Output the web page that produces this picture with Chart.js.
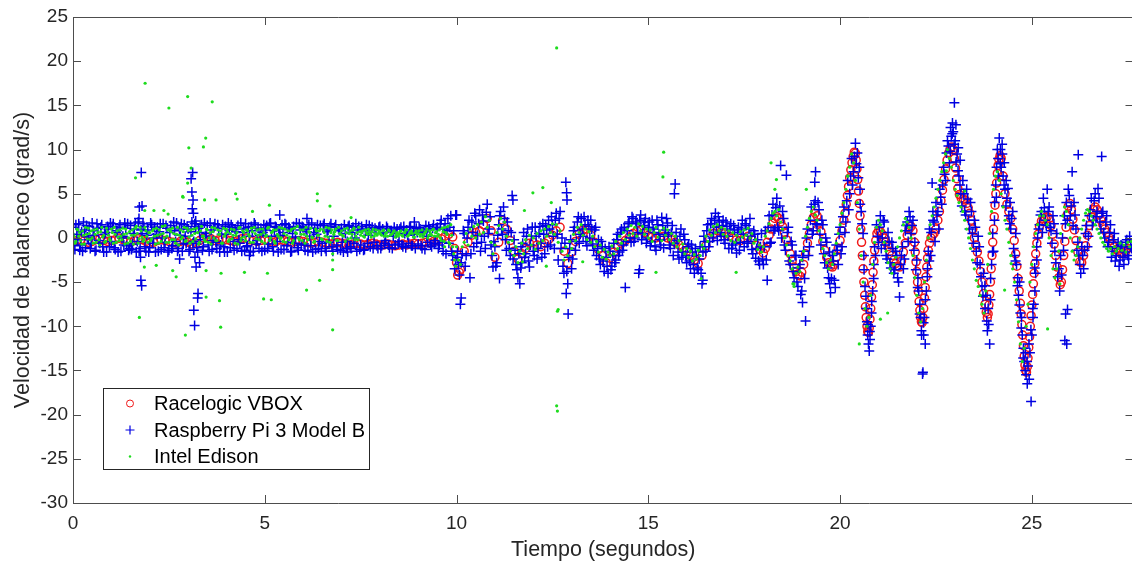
<!DOCTYPE html>
<html>
<head>
<meta charset="utf-8">
<script src="https://cdn.jsdelivr.net/npm/chart.js@4.4.1/dist/chart.umd.min.js"></script>
<style>
  html, body { margin: 0; padding: 0; background: #fff; overflow: hidden; }
  #wrap { width: 1132px; height: 567px; overflow: hidden; }
</style>
</head>
<body>
<div id="wrap"><canvas id="c" width="1140" height="567"></canvas></div>
<script>
  'use strict';

  const seriesNames = ['Racelogic VBOX', 'Raspberry Pi 3 Model B', 'Intel Edison'];
  const xTitle = 'Tiempo (segundos)';
  const yTitle = 'Velocidad de balanceo (grad/s)';
  const xTicks = [0, 5, 10, 15, 20, 25];
  const yTicks = [25, 20, 15, 10, 5, 0, -5, -10, -15, -20, -25, -30];

  // [tiempo, velocidad]
  const vbox = [
    [0,-0.4],[0.1,-0.3],[0.2,-0.2],[0.3,-0.3],[0.4,-0.5],[0.5,-0.4],[0.6,-0.2],[0.7,-0.1],[0.8,-0.3],[0.9,-0.4],
    [1,-0.3],[1.1,-0.2],[1.2,0],[1.3,-0.2],[1.4,-0.4],[1.5,-0.5],[1.6,-0.3],[1.7,-0.1],[1.8,-0.2],[1.9,-0.4],
    [2,-0.6],[2.1,-0.5],[2.2,-0.3],[2.3,-0.2],[2.4,-0.3],[2.5,-0.4],[2.6,-0.5],[2.7,-0.6],[2.8,-0.4],[2.9,-0.3],
    [3,-0.5],[3.1,-0.7],[3.2,-0.6],[3.3,-0.3],[3.4,0],[3.5,0.1],[3.6,-0.1],[3.7,-0.3],[3.8,-0.2],[3.9,-0.1],
    [4,-0.2],[4.1,-0.3],[4.2,-0.4],[4.3,-0.3],[4.4,-0.1],[4.5,0],[4.6,-0.2],[4.7,-0.3],[4.8,-0.4],[4.9,-0.3],
    [5,-0.2],[5.1,-0.3],[5.2,-0.5],[5.3,-0.4],[5.4,-0.2],[5.5,-0.3],[5.6,-0.4],[5.7,-0.5],[5.8,-0.4],[5.9,-0.3],
    [6,-0.4],[6.1,-0.5],[6.2,-0.6],[6.3,-0.5],[6.4,-0.4],[6.5,-0.5],[6.6,-0.6],[6.7,-0.7],[6.8,-0.6],[6.9,-0.5],
    [7,-0.6],[7.1,-0.7],[7.2,-0.8],[7.3,-0.7],[7.4,-0.6],[7.5,-0.7],[7.6,-0.8],[7.7,-0.7],[7.8,-0.6],[7.9,-0.7],
    [8,-0.8],[8.1,-0.8],[8.2,-0.7],[8.3,-0.8],[8.4,-0.9],[8.5,-0.8],[8.6,-0.7],[8.7,-0.8],[8.8,-0.7],[8.9,-0.6],
    [9,-0.7],[9.1,-0.6],[9.2,-0.5],[9.3,-0.6],[9.4,-0.4],[9.5,-0.3],[9.6,-0.1],[9.7,0.2],[9.8,0.4],[9.9,0.1],
    [9.95,-1.2],[10,-2.8],[10.03,-4.2],[10.07,-3.9],
    [10.1,-3.6],[10.2,-1.5],[10.3,-0.5],[10.4,0.3],[10.5,0.6],[10.6,0.8],[10.7,1.5],[10.8,2.2],[10.9,0.8],[11,-2.2],
    [11.1,-0.5],[11.2,2],[11.3,1],[11.4,-0.3],[11.5,-1.5],[11.6,-2.4],[11.7,-1.8],[11.8,-1.2],[11.9,-0.6],[12,-0.5],
    [12.1,-0.8],[12.2,-1],[12.3,-0.6],[12.4,-0.2],[12.5,0.3],[12.6,0.8],[12.7,1.2],[12.8,-1.5],[12.9,-2.9],[13,-1.6],
    [13.1,-0.4],[13.2,0.5],[13.3,0.9],[13.4,1],[13.5,0.3],[13.6,-0.5],[13.7,-1.3],[13.8,-2],[13.9,-2.8],[14,-2.3],
    [14.1,-1.6],[14.2,-1],[14.3,-0.6],[14.4,-0.3],[14.5,0.1],[14.6,0.5],[14.7,0.8],[14.8,0.9],[14.9,0.6],[15,0.3],
    [15.1,0.1],[15.2,0],[15.3,0.1],[15.4,0.2],[15.5,0],[15.6,-0.2],[15.7,-0.5],[15.8,-0.8],[15.9,-1.1],[16,-1.5],
    [16.1,-2],[16.2,-2.5],[16.3,-2.9],[16.4,-2],[16.5,-0.9],[16.6,0],[16.7,0.5],[16.8,0.8],[16.9,0.7],[17,0.5],
    [17.1,0.2],[17.2,0],[17.3,-0.2],[17.4,-0.3],[17.5,0],[17.6,0.2],[17.7,-0.2],[17.8,-0.8],[17.9,-1.3],[18,-1.7],
    [18.05,-1.2],[18.1,-0.5],[18.15,0.3],[18.2,1],[18.25,1.7],[18.3,2.2],[18.35,2.4],[18.4,2.2],[18.45,1.8],[18.5,1.3],
    [18.55,0.6],[18.6,-0.2],[18.65,-1],[18.7,-1.8],[18.75,-2.6],[18.8,-3.3],[18.85,-3.8],[18.9,-4.2],[18.95,-4.3],[19,-3.9],
    [19.05,-3],[19.1,-1.8],[19.15,-0.6],[19.2,0.5],[19.25,1.5],[19.3,2.3],[19.35,2.8],[19.4,2.5],[19.45,1.7],[19.5,0.7],
    [19.55,-0.4],[19.6,-1.4],[19.65,-2.2],[19.7,-2.8],[19.75,-3.2],[19.8,-3.3],[19.85,-3],[19.9,-2.2],[19.95,-1.2],[20,-0.3],
    [20.05,0.8],[20.1,2],[20.13,2.8],[20.16,3.8],[20.19,4.8],[20.22,5.8],[20.25,6.8],[20.28,7.7],[20.31,8.5],[20.34,9.2],
    [20.37,9.7],[20.4,9.6],[20.42,8.8],[20.44,7.8],[20.46,6.6],[20.48,5.3],[20.5,3.9],[20.52,2.5],[20.54,1],[20.56,-0.5],
    [20.58,-2],[20.6,-3.5],[20.62,-5],[20.64,-6.5],[20.66,-7.8],[20.68,-9],[20.7,-10],[20.72,-10.6],[20.74,-10.7],[20.76,-10.2],
    [20.78,-9.2],[20.8,-8],[20.82,-6.7],[20.84,-5.3],[20.86,-3.9],[20.88,-2.6],[20.9,-1.4],[20.93,-0.3],[20.96,0.5],[21,0.8],
    [21.05,0.7],[21.1,0.4],[21.15,0],[21.2,-0.5],[21.25,-1],[21.3,-1.5],[21.35,-2],[21.4,-2.5],[21.45,-2.9],[21.5,-3.2],
    [21.55,-3.3],[21.6,-2.6],[21.65,-1.6],[21.7,-0.6],[21.75,0.3],[21.8,1],[21.85,1.3],[21.9,0.8],[21.94,-0.5],[21.96,-1.6],
    [21.98,-2.7],[22,-3.8],[22.02,-5],[22.04,-6.1],[22.06,-7.2],[22.08,-8.2],[22.1,-9],[22.12,-9.5],[22.14,-9.6],[22.16,-9],
    [22.18,-8],[22.2,-6.8],[22.22,-5.6],[22.24,-4.4],[22.26,-3.3],[22.28,-2.3],[22.3,-1.4],[22.33,-0.6],[22.37,0],[22.41,0.3],
    [22.45,0.5],[22.5,1],[22.55,2],[22.59,3],[22.63,4.2],[22.67,5.4],[22.71,6.6],[22.75,7.8],[22.79,8.8],[22.83,9.6],
    [22.87,10.1],[22.91,10.3],[22.95,10],[22.98,9],[23.01,7.9],[23.04,6.7],[23.07,5.6],[23.11,4.9],[23.16,4.5],[23.21,4.4],
    [23.26,4.3],[23.3,3.9],[23.34,3.4],[23.38,2.8],[23.42,2],[23.46,1],[23.5,0],[23.54,-0.8],[23.58,-1.6],[23.62,-2.6],
    [23.66,-3.8],[23.7,-5],[23.74,-6.3],[23.78,-7.5],[23.81,-8.4],[23.84,-9],[23.86,-8.6],[23.88,-7.6],[23.9,-6.4],[23.92,-5],
    [23.94,-3.5],[23.96,-2],[23.98,-0.5],[24,1],[24.02,2.4],[24.04,3.7],[24.06,5],[24.08,6.2],[24.1,7.3],[24.12,8.2],
    [24.14,8.9],[24.17,9.3],[24.2,9],[24.25,7],[24.3,5],[24.35,3.8],[24.4,3],[24.45,2.2],[24.5,1],[24.54,-0.3],
    [24.58,-1.8],[24.61,-3.2],[24.64,-4.6],[24.67,-6],[24.7,-7.4],[24.72,-8.6],[24.74,-9.8],[24.76,-11],[24.78,-12.2],[24.8,-13.4],
    [24.82,-14.4],[24.84,-15],[24.86,-15.2],[24.88,-14.6],[24.9,-13.6],[24.92,-12.4],[24.94,-11.2],[24.96,-10],[24.98,-8.8],[25,-7.6],
    [25.02,-6.4],[25.04,-5.2],[25.06,-4],[25.08,-2.9],[25.1,-1.8],[25.13,-0.6],[25.16,0.4],[25.2,1.3],[25.25,1.9],[25.3,2.2],
    [25.35,2.3],[25.4,2.4],[25.45,2.2],[25.5,1.4],[25.54,0.4],[25.58,-0.7],[25.62,-2],[25.66,-3.3],[25.7,-4.5],[25.74,-5.3],
    [25.77,-5],[25.8,-3.6],[25.83,-2],[25.86,-0.4],[25.89,1.2],[25.92,2.6],[25.95,3.6],[25.99,3.9],[26.03,3.2],[26.07,2.1],
    [26.11,0.9],[26.15,-0.3],[26.2,-1.6],[26.25,-2.7],[26.3,-2.8],[26.35,-2],[26.4,-0.9],[26.45,0.3],[26.5,1.4],[26.55,2.4],
    [26.6,3.2],[26.65,3.5],[26.7,3.2],[26.75,2.6],[26.8,2],[26.85,1.5],[26.9,1],[26.95,0.6],[27,0.1],[27.05,-0.3],
    [27.1,-0.7],[27.15,-1],[27.2,-1.3],[27.25,-1.5],[27.3,-1.7],[27.35,-1.8],[27.4,-1.7],[27.45,-1.5],[27.5,-1.2],[27.55,-0.9],
    [27.6,-0.7]
  ];

  const raspberry = [
    [0,1.2],[0.05,-1.3],[0.1,0.4],[0.15,1.6],[0.2,-0.8],[0.25,-1.5],[0.3,0.9],[0.35,1.4],[0.4,-0.2],[0.45,-1.2],
    [0.5,1.7],[0.55,0.3],[0.6,-1.4],[0.65,1.1],[0.7,-0.6],[0.75,1.5],[0.8,-1.6],[0.85,0.6],[0.9,1.3],[0.95,-1],
    [1,-0.4],[1.05,1.6],[1.1,-1.3],[1.15,0.8],[1.2,1.2],[1.25,-1.5],[1.3,0.2],[1.35,1.7],[1.4,-0.9],[1.45,-1.4],
    [1.5,1.4],[1.55,-0.7],[1.6,1],[1.65,-1.6],[1.7,1.8],[1.75,-1.2],[1.8,0.5],[1.85,1.3],[1.9,-1.5],[1.95,0.9],
    [2,-1.1],[2.05,1.5],[2.1,0],[2.15,-1.6],[2.2,1.2],[2.25,0.7],[2.3,-1.3],[2.35,1.6],[2.4,-0.5],[2.45,1.1],
    [2.5,-1.4],[2.55,1.4],[2.6,-0.9],[2.65,0.8],[2.7,1.7],[2.75,-1.2],[2.8,0.3],[2.85,-1.5],[2.9,1.5],[2.95,-0.6],
    [3,1],[3.05,-1.3],[3.1,1.8],[3.15,-0.4],[3.2,1.3],[3.25,-1.6],[3.3,0.6],[3.35,1.5],[3.4,-1],[3.45,0.2],
    [3.5,1.4],[3.55,-1.5],[3.6,0.9],[3.65,-0.3],[3.7,1.6],[3.75,-1.2],[3.8,1.1],[3.85,-0.8],[3.9,1.5],[3.95,-1.6],
    [4,0.4],[4.05,1.7],[4.1,-1.1],[4.15,1.2],[4.2,-1.4],[4.25,0.7],[4.3,1.4],[4.35,-0.6],[4.4,-1.5],[4.45,1],
    [4.5,1.6],[4.55,-0.9],[4.6,0.2],[4.65,1.3],[4.7,-1.5],[4.75,1.5],[4.8,-0.3],[4.85,-1.2],[4.9,1.1],[4.95,0.6],
    [5,-1.4],[5.05,1.4],[5.1,-0.7],[5.15,1.7],[5.2,-1],[5.25,0.8],[5.3,1.2],[5.35,-1.6],[5.4,0.3],[5.45,1.5],
    [5.5,-1.3],[5.55,1.5],[5.6,-0.5],[5.65,1],[5.7,-1.5],[5.75,1.3],[5.8,0.1],[5.85,-1.1],[5.9,1.6],[5.95,-0.8],
    [6,1.2],[6.05,-1.4],[6.1,0.7],[6.15,1.5],[6.2,-0.9],[6.25,-1.6],[6.3,1.1],[6.35,0.4],[6.4,-1.2],[6.45,1.4],
    [6.5,-0.6],[6.55,1.6],[6.6,-1.5],[6.65,0.9],[6.7,1.3],[6.75,-1],[6.8,0.2],[6.85,1.5],[6.9,-1.3],[6.95,0.8],
    [7,1.1],[7.05,-1.6],[7.1,0.5],[7.15,-0.4],[7.2,1.4],[7.25,-1.2],[7.3,1.2],[7.35,0],[7.4,-1.5],[7.45,1.3],
    [7.5,-0.8],[7.55,1],[7.6,-1.3],[7.65,1.5],[7.7,0.3],[7.75,-1],[7.8,1.2],[7.85,-0.5],[7.9,0.9],[7.95,-1.2],
    [8,1.3],[8.05,-0.9],[8.1,0.6],[8.15,-0.3],[8.2,1.1],[8.25,-1.1],[8.3,0.8],[8.35,0.2],[8.4,-0.8],[8.45,1],
    [8.5,-0.4],[8.55,1.2],[8.6,-1],[8.65,0.5],[8.7,0.9],[8.75,-0.6],[8.8,1.3],[8.85,-0.9],[8.9,0.4],[8.95,1.1],
    [9,-0.7],[9.05,1],[9.1,-1.2],[9.15,0.7],[9.2,1.4],[9.25,-0.5],[9.3,0.9],[9.35,-1],[9.4,1.5],[9.45,-0.3],
    [9.5,1.2],[9.55,-0.8],[9.6,2],[9.65,-1.5],[9.7,1.6],[9.75,0.8],[9.8,-0.6],[9.85,2.5],[9.9,-2],[9.95,-3.5],
    [1.72,2.2],[1.73,3.5],[1.76,-2.2],[1.77,-4.8],[1.78,7.4],[1.79,-5.4],[1.8,3.6],
    [3.08,6.7],[3.1,5.2],[3.11,3.3],[3.12,7.4],[3.13,4.3],[3.14,2.8],[3.2,1.9],[3.18,-2.2],[3.21,-3.3],
    [3.25,-6.8],[3.26,-6.3],[3.15,-8.2],[3.17,-9.9],[3.3,-2.8],[2.78,-2.4],[4.6,-2],[5.39,2.6],[6.1,2.2],
    [7.16,-1.6],[8.9,1.8],[9.98,2.6],[10.02,-2.2],
    [10,2.6],[10.05,-3],[10.1,-7.5],[10.12,-6.8],[10.15,-1.8],[10.2,0.5],[10.25,-2],[10.3,1.2],[10.35,-4.5],[10.4,1.8],[10.45,-1],
    [10.5,2.5],[10.55,0.3],[10.6,3.2],[10.65,-0.5],[10.7,1.9],[10.75,-1.2],[10.8,3.8],[10.85,1],[10.9,-0.8],[10.95,-3.3],
    [11,-1],[11.05,-2.8],[11.1,1.5],[11.12,-4.6],[11.15,3],[11.2,0.4],[11.25,2.2],[11.3,-1.4],[11.35,0.8],[11.4,-2],[11.45,4.8],[11.47,4.3],
    [11.5,-0.2],[11.55,-3],[11.6,-4.5],[11.65,-5.2],[11.68,-1],[11.7,-2.8],[11.75,0.6],[11.8,-1.8],[11.85,1],[11.9,-3.3],[11.95,0.2],
    [12,-1.5],[12.05,1.2],[12.1,-2.4],[12.15,0.5],[12.2,-0.6],[12.25,1.6],[12.3,-1.8],[12.35,0.9],[12.4,2],[12.45,-0.8],
    [12.5,1.5],[12.55,-1.2],[12.6,2.8],[12.65,-2.5],[12.7,3],[12.75,0],[12.8,-4],[12.85,6.3],[12.86,-6.3],[12.87,5.1],[12.88,4.3],[12.9,-5.2],[12.91,-8.6],[12.95,-1.2],
    [13,-3.5],[13.05,0.8],[13.1,-1.4],[13.15,1.8],[13.2,-0.6],[13.25,2.2],[13.3,0.2],[13.35,1.5],[13.4,-0.9],[13.45,1.3],
    [13.5,2],[13.55,-0.7],[13.6,0.9],[13.65,-2],[13.7,-0.2],[13.75,-3],[13.8,-1],[13.85,-3.8],[13.9,-2.2],[13.95,-4],
    [14,-1.5],[14.05,-3.2],[14.1,-0.6],[14.15,-2.5],[14.2,0.4],[14.25,-1.6],[14.3,1],[14.35,-0.8],[14.4,-5.6],[14.45,0.8],
    [14.5,1.8],[14.55,-0.5],[14.6,2.2],[14.65,0],[14.7,1.6],[14.75,-4],[14.77,-3.6],[14.8,2.6],[14.85,0.5],[14.9,1.8],[14.95,-0.6],
    [15,1.2],[15.05,-0.9],[15.1,2],[15.15,0.6],[15.2,-1.4],[15.25,1.5],[15.3,-0.2],[15.35,2.3],[15.4,-1.1],[15.45,0.9],
    [15.5,1.7],[15.55,-0.8],[15.6,0.6],[15.65,-2],[15.68,5],[15.7,6.1],[15.75,-0.3],[15.8,-2.4],[15.85,1],[15.9,-1.6],[15.95,-0.2],
    [16,-2.8],[16.05,-0.7],[16.1,-3.5],[16.15,-1.6],[16.2,-4],[16.25,-2],[16.3,-3.6],[16.35,-1],[16.4,-5.2],[16.42,-4.8],[16.45,0.2],
    [16.5,-1.5],[16.55,1.5],[16.6,-0.4],[16.65,2.2],[16.7,0.6],[16.75,2.8],[16.8,-0.3],[16.85,1.8],[16.9,0.2],[16.95,2],
    [17,-0.6],[17.05,1.3],[17.1,-1.2],[17.15,1.6],[17.2,-0.8],[17.25,0.9],[17.3,-1.7],[17.35,1.2],[17.4,-0.5],[17.45,2],
    [17.5,-1],[17.55,1.4],[17.6,-0.4],[17.65,2.2],[17.7,-1.3],[17.75,0.8],[17.8,-2.3],[17.85,-0.2],[17.9,-3],[17.95,0.5],
    [18,-3],[18.05,0.8],[18.1,-4.8],[18.15,2.5],[18.2,-0.5],[18.25,3.8],[18.3,1],[18.35,4.5],[18.4,0.8],[18.45,8.2],
    [18.5,3],[18.55,-0.8],[18.6,7.1],[18.65,1.2],[18.7,-3],[18.75,-0.8],[18.8,-4.5],[18.85,-2],[18.9,-5.5],[18.95,-3],
    [19,-6],[19.02,-7.3],[19.05,-1.5],[19.1,-9.4],[19.15,1],[19.2,-1],[19.25,3.5],[19.3,0.8],[19.34,6.3],[19.35,4.2],[19.36,7.5],
    [19.4,1.5],[19.45,3.2],[19.5,-0.8],[19.55,1.5],[19.6,-2.8],[19.65,-0.5],[19.7,-4.5],[19.73,-5.2],[19.75,-6.2],[19.8,-2],
    [19.85,-4.8],[19.9,-0.8],[19.95,-3],[20,1.2],[20.05,-1],[20.1,3.5],[20.15,1.8],[20.2,6.5],[20.25,5],[20.3,9],
    [20.35,7.5],[20.4,10.7],[20.45,9.6],[20.5,8],[20.52,5.5],[20.55,3],[20.6,0.5],[20.62,-2],[20.65,-5.5],[20.68,-8],
    [20.7,-9.5],[20.72,-11],[20.74,-12],[20.76,-12.8],[20.78,-11.5],[20.8,-10],[20.82,-8.5],[20.85,-6],[20.88,-3],[20.9,-1],
    [20.95,1.5],[21,-0.5],[21.05,2.5],[21.1,0],[21.15,1.8],[21.2,-2],[21.25,0.6],[21.3,-2.8],[21.35,-0.5],[21.4,-4],
    [21.45,-1.5],[21.5,-4.5],[21.55,-6.7],[21.6,-2],[21.65,-3.5],[21.7,0.8],[21.75,1.8],[21.8,3],[21.85,0.5],[21.9,2],
    [21.95,-0.5],[22,-2.5],[22.03,-4.5],[22.05,-6],[22.08,-7.5],[22.1,-9],[22.12,-10.5],[22.15,-15.4],[22.16,-15.2],[22.18,-11],
    [22.2,-9],[22.22,-12],[22.25,-6],[22.28,-3.5],[22.3,-1.5],[22.33,1],[22.36,-2],[22.4,6.2],[22.42,3],[22.45,1.8],
    [22.5,4],[22.55,3],[22.6,5.5],[22.65,3.8],[22.7,8],[22.75,6.5],[22.8,11],[22.85,8.5],[22.88,12.5],[22.9,11.5],
    [22.93,13],[22.95,12],[22.98,15.3],[23,11],[23.02,12.8],[23.05,9.5],[23.08,10.2],[23.1,7],[23.13,8.8],[23.15,5],
    [23.2,6.5],[23.25,3],[23.3,5.5],[23.35,2],[23.4,4],[23.45,0.5],[23.5,2],[23.55,-1.5],[23.6,0.2],[23.65,-3],
    [23.7,-5.5],[23.74,-4],[23.78,-8],[23.8,-6.5],[23.84,-10.5],[23.86,-8],[23.9,-12],[23.92,-7],[23.95,-3],[23.98,0.5],
    [24,-1.5],[24.03,4],[24.06,6],[24.08,8],[24.1,10],[24.12,9],[24.15,11.3],[24.18,10],[24.2,8],[24.23,9.5],
    [24.25,7],[24.28,8.5],[24.3,5.5],[24.33,6.5],[24.35,4.5],[24.4,2.5],[24.43,4],[24.45,1],[24.5,3],[24.55,-2],
    [24.58,0.5],[24.6,-3],[24.63,-4.5],[24.65,-6.5],[24.68,-5],[24.7,-8.5],[24.73,-9],[24.75,-11],[24.78,-12.5],[24.8,-14],
    [24.83,-13],[24.85,-15.5],[24.88,-16.5],[24.9,-14.5],[24.93,-16],[24.95,-13],[24.98,-18.5],[25,-11],[25.03,-9],[25.05,-7.5],
    [25.08,-6],[25.1,-4],[25.13,-2.5],[25.15,0],[25.2,1.5],[25.25,3],[25.3,4.5],[25.35,2],[25.4,5.5],[25.45,3.5],
    [25.5,0.8],[25.55,2.5],[25.6,-1.5],[25.65,0.5],[25.7,-3.5],[25.75,-2],[25.8,0],[25.85,2.5],[25.86,-11.6],[25.88,-8.6],
    [25.9,4],[25.91,-12],[25.93,-8.1],[25.95,5.5],[26,2.5],[26.05,7.5],[26.1,4],[26.15,1],[26.2,-0.5],[26.21,9.4],
    [26.25,-3],[26.3,-1],[26.35,-3.5],[26.4,0.5],[26.45,-1],[26.5,2.5],[26.55,4.5],[26.6,2],[26.65,5],[26.7,3],
    [26.75,4.5],[26.8,1],[26.82,9.2],[26.85,3],[26.9,0],[26.95,2.5],[27,-0.5],[27.05,1.5],[27.1,-1.5],[27.15,0.5],
    [27.2,-2],[27.25,-0.5],[27.3,-2.5],[27.35,-1],[27.4,-3],[27.45,-0.5],[27.5,-2],[27.55,0.2],[27.6,-1.2]
  ];

  // muestras intermedias de la Raspberry (entre las anteriores)
  const raspberryMid = [
    [0.025,-0.9],[0.075,1.5],[0.125,-0.2],[0.175,-1.4],[0.225,0.7],[0.275,1.8],[0.325,-1.1],[0.375,0.1],[0.425,1.3],[0.475,-0.6],
    [0.525,0.8],[0.575,-1.5],[0.625,1.6],[0.675,-0.3],[0.725,1.2],[0.775,-1],[0.825,0.4],[0.875,-1.6],[0.925,1],[0.975,1.7],
    [1.025,1.3],[1.075,-1.1],[1.125,0.6],[1.175,-1.6],[1.225,1.5],[1.275,0],[1.325,-0.8],[1.375,1.1],[1.425,1.6],[1.475,-1.2],
    [1.525,-1.3],[1.575,0.5],[1.625,1.7],[1.675,-0.4],[1.725,-1.5],[1.775,0.9],[1.825,1.6],[1.875,-1],[1.925,0.3],[1.975,-1.6],
    [2.025,1.7],[2.075,-0.6],[2.125,1.2],[2.175,0.4],[2.225,-1.5],[2.275,1.6],[2.325,0],[2.375,-1.1],[2.425,1.4],[2.475,-1.6],
    [2.525,0.6],[2.575,-1.2],[2.625,1.8],[2.675,-0.4],[2.725,-1.5],[2.775,1],[2.825,1.6],[2.875,-0.7],[2.925,0.2],[2.975,1.3],
    [3.025,-1.5],[3.075,0.7],[3.125,-0.6],[3.175,1.6],[3.225,-1.1],[3.275,1.1],[3.325,-0.2],[3.375,-1.4],[3.425,1.7],[3.475,0.5],
    [3.525,-0.8],[3.575,1.7],[3.625,-1.3],[3.675,1.2],[3.725,-0.5],[3.775,1.5],[3.825,-1.6],[3.875,0.4],[3.925,-1],[3.975,1.3],
    [4.025,-1.6],[4.075,0.9],[4.125,1.5],[4.175,-0.4],[4.225,1],[4.275,-1.2],[4.325,-0.2],[4.375,1.7],[4.425,0.6],[4.475,-1.4],
    [4.525,-1],[4.575,1.2],[4.625,-1.6],[4.675,0.8],[4.725,1.7],[4.775,-0.7],[4.825,1.1],[4.875,0.3],[4.925,-1.5],[4.975,1.5],
    [5.025,0.9],[5.075,-1.2],[5.125,1.6],[5.175,0.2],[5.225,-1.5],[5.275,1.3],[5.325,-0.4],[5.375,1],[5.425,-1.3],[5.475,0.6],
    [5.525,1.6],[5.575,-0.9],[5.625,1.2],[5.675,-1.6],[5.725,0.5],[5.775,-0.6],[5.825,1.7],[5.875,-1.4],[5.925,0.9],[5.975,1.3],
    [6.025,-0.7],[6.075,1],[6.125,-1.5],[6.175,0.2],[6.225,1.7],[6.275,0.6],[6.325,-1.3],[6.375,1.5],[6.425,-0.4],[6.475,-1.5],
    [6.525,1.4],[6.575,-1.2],[6.625,0.7],[6.675,-0.5],[6.725,1.6],[6.775,-1.5],[6.825,1.2],[6.875,-0.8],[6.925,1],[6.975,-1.4],
    [7.025,-0.5],[7.075,1.5],[7.125,-1.2],[7.175,1.3],[7.225,-1],[7.275,0.6],[7.325,-0.6],[7.375,1.6],[7.425,0.9],[7.475,-1.3],
    [7.525,1.3],[7.575,-1.4],[7.625,0.8],[7.675,-0.6],[7.725,1.4],[7.775,0.6],[7.825,-1.2],[7.875,1.1],[7.925,-0.9],[7.975,1.2],
    [8.025,-1.2],[8.075,1],[8.125,-0.6],[8.175,1.3],[8.225,-0.8],[8.275,0.7],[8.325,-1.2],[8.375,1.2],[8.425,0.5],[8.475,-0.7],
    [8.525,1],[8.575,-0.8],[8.625,1.3],[8.675,-1.1],[8.725,0.3],[8.775,1.2],[8.825,-0.9],[8.875,0.7],[8.925,-1.2],[8.975,0.6],
    [9.025,1.2],[9.075,-0.9],[9.125,0.6],[9.175,-1.3],[9.225,0.2],[9.275,1.3],[9.325,-0.8],[9.375,1.1],[9.425,-0.6],[9.475,1],
    [9.525,-1.2],[9.575,1.6],[9.625,-0.5],[9.675,1],[9.725,-1.8],[9.775,2.2],[9.825,1.2],[9.875,-1.5],[9.925,0.8],[9.975,-2.5],
    [10.025,-1.5],[10.075,-4.2],[10.125,-2.8],[10.175,0.8],[10.225,-3.2],[10.275,0],[10.325,2],[10.375,-1.8],[10.425,0.6],[10.475,2.8],
    [10.525,-0.6],[10.575,1.6],[10.625,-1.5],[10.675,2.6],[10.725,0.2],[10.775,2.9],[10.825,0.5],[10.875,2.4],[10.925,-2],[10.975,-0.4],
    [11.025,-3.2],[11.075,0.3],[11.125,2.5],[11.175,1],[11.225,3.5],[11.275,-0.2],[11.325,1.8],[11.375,-1.2],[11.425,0.6],[11.475,-2.4],
    [11.525,-1.4],[11.575,-3.6],[11.625,-1.8],[11.675,-3.4],[11.725,-0.6],[11.775,-2.2],[11.825,0.2],[11.875,-2.6],[11.925,-0.8],[11.975,1.2],
    [12.025,-2],[12.075,0.2],[12.125,-1.2],[12.175,1.3],[12.225,-2.2],[12.275,0.4],[12.325,1.4],[12.375,-1],[12.425,1],[12.475,2.4],
    [12.525,0.2],[12.575,2],[12.625,0.4],[12.675,2.2],[12.725,-1.2],[12.775,-3.2],[12.825,-0.6],[12.875,-3.8],[12.925,-2.2],[12.975,-0.2],
    [13.025,-2.4],[13.075,1.2],[13.125,-0.4],[13.175,2.4],[13.225,0.4],[13.275,1],[13.325,2.4],[13.375,-0.4],[13.425,2],[13.475,0],
    [13.525,1],[13.575,-1.4],[13.625,1.2],[13.675,-1.2],[13.725,-2.4],[13.775,-0.4],[13.825,-2.6],[13.875,-1.2],[13.925,-3.2],[13.975,-1],
    [14.025,-3.6],[14.075,-2],[14.125,-2.8],[14.175,-0.2],[14.225,-2],[14.275,0.6],[14.325,-1.4],[14.375,1.2],[14.425,-0.4],[14.475,1.6],
    [14.525,0],[14.575,2.4],[14.625,-0.4],[14.675,1.8],[14.725,0.6],[14.775,2],[14.825,-0.2],[14.875,1.4],[14.925,2.2],[14.975,0],
    [15.025,1.8],[15.075,-0.4],[15.125,1],[15.175,-1],[15.225,2],[15.275,0.4],[15.325,-0.8],[15.375,1.4],[15.425,0.2],[15.475,2.2],
    [15.525,0.4],[15.575,-1.2],[15.625,1.4],[15.675,-0.6],[15.725,0.6],[15.775,-1.6],[15.825,0.2],[15.875,-2.2],[15.925,0.4],[15.975,-2],
    [16.025,-1],[16.075,-2.6],[16.125,-0.8],[16.175,-3],[16.225,-1.2],[16.275,-3.4],[16.325,-2.4],[16.375,-4],[16.425,-1.6],[16.475,-0.4],
    [16.525,0.8],[16.575,-1],[16.625,1.6],[16.675,0],[16.725,2],[16.775,1.2],[16.825,2.4],[16.875,0.6],[16.925,1.4],[16.975,-0.2],
    [17.025,1.8],[17.075,0.2],[17.125,1],[17.175,-1.2],[17.225,1.4],[17.275,-0.6],[17.325,0.6],[17.375,-1.4],[17.425,1],[17.475,0.4],
    [17.525,1.6],[17.575,-0.6],[17.625,1],[17.675,0.2],[17.725,-1.8],[17.775,0.4],[17.825,-1.2],[17.875,-2.6],[17.925,-1],[17.975,-2.4],
    [18.025,-1],[18.075,-2.5],[18.125,1.2],[18.175,-0.6],[18.225,2.6],[18.275,0.8],[18.325,3.4],[18.375,1.2],[18.425,3.6],[18.475,0],
    [18.525,2.2],[18.575,-1.4],[18.625,0.6],[18.675,-2.6],[18.725,-0.4],[18.775,-3.8],[18.825,-2],[18.875,-5],[18.925,-3.4],[18.975,-6.4],
    [19.025,-2.2],[19.075,-4.6],[19.125,0],[19.175,-2],[19.225,2],[19.275,0.4],[19.325,3.8],[19.375,1.6],[19.425,4],[19.475,0.4],
    [19.525,2],[19.575,-1.8],[19.625,0],[19.675,-3.4],[19.725,-1.6],[19.775,-4.6],[19.825,-2.6],[19.875,-5.6],[19.925,-1.4],[19.975,0.4],
    [20.025,-1.8],[20.075,2.4],[20.125,0.6],[20.175,4.2],[20.225,3.2],[20.275,7],[20.325,6],[20.375,9.2],[20.425,8.4],[20.475,6.8],
    [20.525,3.8],[20.575,1.6],[20.625,-3.6],[20.675,-6.6],[20.725,-9.8],[20.775,-10.6],[20.825,-7.2],[20.875,-4.6],[20.925,-2],[20.975,0.2],
    [21.025,1.2],[21.075,-1.2],[21.125,2],[21.175,-0.8],[21.225,-2.4],[21.275,-0.4],[21.325,-3.4],[21.375,-1.2],[21.425,-3.6],[21.475,-2],
    [21.525,-5],[21.575,-3],[21.625,-1],[21.675,-2.4],[21.725,1.4],[21.775,-0.4],[21.825,2.4],[21.875,1.4],[21.925,-1.4],[21.975,-3.6],
    [22.025,-5.6],[22.075,-8.6],[22.125,-11],[22.175,-9.6],[22.225,-7],[22.275,-4.4],[22.325,-2.6],[22.375,0.6],[22.425,2],[22.475,-0.4],
    [22.525,2.6],[22.575,1],[22.625,4.6],[22.675,6],[22.725,7.2],[22.775,9.6],[22.825,10.4],[22.875,9.8],[22.925,11.8],[22.975,10.6],
    [23.025,8.6],[23.075,7.6],[23.125,6],[23.175,3.6],[23.225,5],[23.275,2.6],[23.325,4.4],[23.375,1],[23.425,3],[23.475,-0.6],
    [23.525,1.2],[23.575,-2.8],[23.625,-1],[23.675,-4.4],[23.725,-6.6],[23.775,-5.4],[23.825,-9.4],[23.875,-9.8],[23.925,-4.6],[23.975,-1.6],
    [24.025,2],[24.075,4.6],[24.125,7],[24.175,8.4],[24.225,10.6],[24.275,6],[24.325,3.6],[24.375,5.6],[24.425,1.6],[24.475,2.2],
    [24.525,-1.2],[24.575,-2.6],[24.625,-5.4],[24.675,-7.6],[24.725,-10.2],[24.775,-13.6],[24.825,-15],[24.875,-14],[24.925,-12],[24.975,-10.4],
    [25.025,-8],[25.075,-3.4],[25.125,-1],[25.175,1],[25.225,2.6],[25.275,0.6],[25.325,3.4],[25.375,1.4],[25.425,3],[25.475,1.2],
    [25.525,-0.6],[25.575,1.6],[25.625,-2.8],[25.675,-4.4],[25.725,-6],[25.775,-4.2],[25.825,-1.4],[25.875,1.6],[25.925,2],[25.975,4.8],
    [26.025,3.6],[26.075,1.4],[26.125,2.6],[26.175,-1.4],[26.225,-2],[26.275,-4],[26.325,-2],[26.375,-1.4],[26.425,1.4],[26.475,0.2],
    [26.525,3.2],[26.575,1.4],[26.625,4.2],[26.675,2.4],[26.725,5.6],[26.775,1.8],[26.825,2.8],[26.875,0.6],[26.925,1.8],[26.975,-1],
    [27.025,0.6],[27.075,-2.2],[27.125,-0.2],[27.175,-2.6],[27.225,-1.2],[27.275,-3.2],[27.325,-0.8],[27.375,-2.2],[27.425,-1.6],[27.475,-0.2],
    [27.525,-2.4],[27.575,-1]
  ];

  const edison = [
    [0,0.5],[0.05,-0.6],[0.1,1],[0.15,0.2],[0.2,-0.3],[0.25,0.8],[0.3,-0.7],[0.35,0.4],[0.4,1.1],[0.45,-0.2],
    [0.5,0],[0.55,0.9],[0.6,-0.5],[0.65,0.6],[0.7,-0.8],[0.75,1.2],[0.8,0.3],[0.85,-0.4],[0.9,0.7],[0.95,-0.1],
    [1,1],[1.05,-0.6],[1.1,0.4],[1.15,0.8],[1.2,-0.3],[1.25,0.2],[1.3,1.1],[1.35,-0.7],[1.4,0.5],[1.45,0],
    [1.5,-0.4],[1.55,0.9],[1.6,0.3],[1.65,1.3],[1.7,-0.6],[1.75,1.2],[1.8,0.1],[1.85,-0.2],[1.9,0.8],[1.95,-0.5],
    [2,0.6],[2.05,-0.1],[2.1,1],[2.15,-0.7],[2.2,0.3],[2.25,0.9],[2.3,-0.4],[2.35,0.5],[2.4,1.4],[2.45,0.2],
    [2.5,-0.5],[2.55,0.7],[2.6,1.1],[2.65,-0.2],[2.7,0.4],[2.75,-0.8],[2.8,0.9],[2.85,0.1],[2.9,1.2],[2.95,-0.3],
    [3,0.8],[3.05,-0.6],[3.1,0.3],[3.15,1],[3.2,-0.1],[3.25,0.6],[3.3,-0.5],[3.35,1.3],[3.4,0.2],[3.45,-0.4],
    [3.5,0.9],[3.55,0],[3.6,-0.7],[3.65,0.7],[3.7,1.1],[3.75,-0.3],[3.8,0.4],[3.85,0.8],[3.9,-0.6],[3.95,0.2],
    [4,1],[4.05,-0.4],[4.1,0.5],[4.15,-0.1],[4.2,0.9],[4.25,0.3],[4.3,-0.7],[4.35,1.2],[4.4,0],[4.45,0.6],
    [4.5,-0.3],[4.55,0.8],[4.6,0.2],[4.65,1.1],[4.7,-0.5],[4.75,0.5],[4.8,0.9],[4.85,-0.2],[4.9,0.4],[4.95,1],
    [5,-0.6],[5.05,0.3],[5.1,1.2],[5.15,0],[5.2,0.7],[5.25,-0.4],[5.3,0.9],[5.35,0.2],[5.4,-0.1],[5.45,1.1],
    [5.5,0.5],[5.55,-0.5],[5.6,0.8],[5.65,0.1],[5.7,1],[5.75,-0.3],[5.8,0.6],[5.85,1.3],[5.9,-0.2],[5.95,0.4],
    [6,0.9],[6.05,-0.6],[6.1,0.2],[6.15,0.7],[6.2,1.1],[6.25,0],[6.3,-0.4],[6.35,0.8],[6.4,0.3],[6.45,1],
    [6.5,-0.2],[6.55,0.6],[6.6,1.2],[6.65,0.1],[6.7,-0.5],[6.75,0.9],[6.8,0.4],[6.85,1],[6.9,-0.3],[6.95,0.5],
    [7,0.8],[7.05,0.2],[7.1,-0.4],[7.15,1.1],[7.2,0.5],[7.25,0],[7.3,0.9],[7.35,-0.2],[7.4,0.6],[7.45,1.2],
    [7.5,0.3],[7.55,0.8],[7.6,0.1],[7.65,0.6],[7.7,1],[7.75,0.4],[7.8,0.7],[7.85,0.2],[7.9,0.9],[7.95,0.5],
    [8,0.6],[8.05,0.3],[8.1,0.9],[8.15,0.5],[8.2,0.2],[8.25,0.8],[8.3,0.4],[8.35,0.7],[8.4,0.1],[8.45,0.6],
    [8.5,0.4],[8.55,0.8],[8.6,0.2],[8.65,0.6],[8.7,0.9],[8.75,0.3],[8.8,0.7],[8.85,0.5],[8.9,0.1],[8.95,0.8],
    [9,0.5],[9.05,0.2],[9.1,0.9],[9.15,0.4],[9.2,0.7],[9.25,0],[9.3,0.8],[9.35,0.3],[9.4,1],[9.45,0.6],
    [9.5,0.2],[9.55,0.9],[9.6,-0.3],[9.65,0.7],[9.7,1.2],[9.75,0.4],[9.8,-0.5],[9.85,1.5],[9.9,-1],[9.95,-2.5],
    [1.63,6.8],[1.73,-9],[1.86,-3.3],[1.87,3.1],[1.88,17.5],[2.11,3.1],[2.17,-3.1],[2.37,3.1],[2.48,2.7],[2.5,14.7],
    [2.6,-3.7],[2.69,-4.4],[2.86,4.7],[2.87,4.6],[2.93,-11],[2.99,16],[2.99,6.2],[3.02,10.2],[3.08,7.9],[3.4,10.3],
    [3.43,4.3],[3.46,11.3],[3.47,-3.7],[3.47,-6.7],[3.63,15.4],[3.73,4.3],[3.82,-7.1],[3.85,-10.1],[3.86,-4],
    [4.24,5],[4.28,4.4],[4.47,-3.9],[4.68,3],[4.97,-6.9],[5.07,-4],[5.12,3.7],[5.17,-7],[6.09,-5.9],[6.37,5],
    [6.37,4.2],[6.43,-4.8],[6.7,3.6],[6.77,-10.4],[6.77,-3.6],[6.77,-2.5],[6.77,-1.8],[7.25,2.3],[9.69,-1],
    [11.72,-2.7],[11.77,3.1],[11.99,5.1],[12.25,5.7],[12.34,-3.2],[12.47,4],[12.61,21.5],[12.61,-19],[12.63,-19.6],
    [12.63,-8.3],[12.65,-8.1],[13.29,-2.7],[15.2,-3.9],[15.38,6.9],[15.4,9.7],[16.38,-4.6],[17.29,-3.9],[18.2,8.5],
    [18.3,5.5],[18.34,6.6],[18.77,-5.2],[18.8,-5.5],[19.12,5.5],[20.2,7],[20.5,-12],[21.05,-9.2],[21.24,-8.5],
    [22.77,7.6],[23.25,5.3],[24.29,-5.9],[24.46,-2.9],[25.41,-10.3],[25.73,-5.2],
    [10,-1],[10.05,-2.5],[10.1,-3],[10.15,-1],[10.2,-0.5],[10.25,0.5],[10.3,-0.8],[10.35,1],[10.4,0.2],[10.45,1.3],
    [10.5,0],[10.55,1.5],[10.6,0.4],[10.65,1.8],[10.7,0.6],[10.75,2.4],[10.8,1.2],[10.85,2],[10.9,-0.5],[10.95,-1.8],
    [11,-0.8],[11.05,0.6],[11.1,1.4],[11.15,2.2],[11.2,1],[11.25,1.8],[11.3,0.2],[11.35,-0.5],[11.4,-1.5],[11.45,-0.3],
    [11.5,-2],[11.55,-1],[11.6,-2.8],[11.65,-1.5],[11.7,-0.6],[11.75,-1.8],[11.8,-0.2],[11.85,-1.2],[11.9,0.3],[11.95,-0.8],
    [12,0],[12.05,-1.3],[12.1,0.5],[12.15,-0.6],[12.2,0.8],[12.25,-0.3],[12.3,1],[12.35,0.2],[12.4,1.3],[12.45,0.6],
    [12.5,1.6],[12.55,0.4],[12.6,1.5],[12.65,-0.5],[12.7,0.8],[12.75,-1.5],[12.8,-2.5],[12.85,-1],[12.9,-2],[12.95,-0.4],
    [13,-1.2],[13.05,0.4],[13.1,-0.3],[13.15,1.2],[13.2,0.6],[13.25,1.5],[13.3,0.3],[13.35,1],[13.4,-0.2],[13.45,0.7],
    [13.5,-0.5],[13.55,0.2],[13.6,-1],[13.65,-0.4],[13.7,-1.6],[13.75,-0.8],[13.8,-2.2],[13.85,-1.3],[13.9,-2.4],[13.95,-1.6],
    [14,-2],[14.05,-0.9],[14.1,-1.8],[14.15,-0.4],[14.2,-1.2],[14.25,0.2],[14.3,-0.6],[14.35,0.6],[14.4,-0.2],[14.45,1],
    [14.5,0.3],[14.55,1.4],[14.6,0.5],[14.65,1.2],[14.7,0.2],[14.75,1.6],[14.8,0.8],[14.85,1.3],[14.9,0.4],[14.95,1],
    [15,0],[15.05,0.9],[15.1,-0.4],[15.15,0.6],[15.2,1.2],[15.25,0.1],[15.3,0.8],[15.35,-0.3],[15.4,1.1],[15.45,0.3],
    [15.5,0.9],[15.55,-0.2],[15.6,0.5],[15.65,-0.6],[15.7,0.2],[15.75,-1],[15.8,-0.3],[15.85,-1.4],[15.9,-0.7],[15.95,-1.8],
    [16,-1.2],[16.05,-2.2],[16.1,-1.5],[16.15,-2.6],[16.2,-1.9],[16.25,-2.4],[16.3,-1.4],[16.35,-2],[16.4,-0.8],[16.45,-1.2],
    [16.5,0.2],[16.55,-0.4],[16.6,0.9],[16.65,0.3],[16.7,1.3],[16.75,0.6],[16.8,1.5],[16.85,0.8],[16.9,1.2],[16.95,0.4],
    [17,1],[17.05,0.2],[17.1,0.8],[17.15,-0.3],[17.2,0.6],[17.25,-0.5],[17.3,0.3],[17.35,-0.2],[17.4,0.7],[17.45,0.1],
    [17.5,0.9],[17.55,0.3],[17.6,1.1],[17.65,0],[17.7,0.5],[17.75,-0.6],[17.8,-0.2],[17.85,-1.3],[17.9,-0.8],[17.95,-1.6],
    [18,-1],[18.05,0.2],[18.1,0.8],[18.15,1.6],[18.2,2.2],[18.25,2.8],[18.3,3],[18.35,2.5],[18.4,3.2],[18.45,1.8],
    [18.5,1],[18.55,0],[18.6,-0.8],[18.65,-2],[18.7,-2.6],[18.75,-3.5],[18.8,-5.2],[18.85,-4],[18.9,-3.3],[18.95,-3.8],
    [19,-2.5],[19.05,-1.5],[19.1,0.2],[19.15,1.2],[19.2,2.2],[19.25,3],[19.3,3.5],[19.35,2.6],[19.4,2],[19.45,0.8],
    [19.5,-0.2],[19.55,-1.2],[19.6,-2],[19.65,-2.8],[19.7,-3.5],[19.75,-2.5],[19.8,-3],[19.85,-1.8],[19.9,-0.6],[19.95,0.5],
    [20,1.5],[20.05,2.8],[20.1,4],[20.15,5.5],[20.2,7],[20.25,8],[20.3,9.5],[20.35,8.5],[20.4,6.5],[20.45,4],
    [20.5,1],[20.55,-2],[20.6,-5],[20.65,-8],[20.7,-10],[20.75,-9],[20.8,-6.5],[20.85,-3],[20.9,-0.5],[20.95,1.2],
    [21,2],[21.05,1.5],[21.1,0.8],[21.15,-0.5],[21.2,-1.5],[21.25,-2.8],[21.3,-3.5],[21.35,-4],[21.4,-3],[21.45,-2.2],
    [21.5,-1],[21.55,0],[21.6,0.8],[21.65,1.5],[21.7,2.2],[21.75,1.8],[21.8,1.2],[21.85,0],[21.9,-2],[21.95,-4.5],
    [22,-6.5],[22.05,-8.5],[22.1,-9.5],[22.15,-8],[22.2,-5],[22.25,-2.5],[22.3,0],[22.35,1.5],[22.4,2.5],[22.45,3.5],
    [22.5,4.5],[22.55,5.5],[22.6,6.5],[22.65,7.5],[22.7,8.5],[22.75,9.5],[22.8,10],[22.85,9],[22.9,8],[22.95,6.5],
    [23,5.5],[23.05,4.8],[23.1,4],[23.15,3.5],[23.2,3],[23.25,2],[23.3,1],[23.35,0],[23.4,-1.2],[23.45,-2.5],
    [23.5,-3.5],[23.55,-4.8],[23.6,-5.5],[23.65,-6.5],[23.7,-7.5],[23.75,-8.5],[23.8,-6],[23.85,-3],[23.9,0.5],[23.95,3],
    [24,5.5],[24.05,7],[24.1,7.5],[24.15,6.5],[24.2,5],[24.25,3.5],[24.3,2],[24.35,1],[24.4,-0.5],[24.45,-2],
    [24.5,-3.5],[24.55,-5],[24.6,-7],[24.65,-9.5],[24.7,-12],[24.75,-14],[24.8,-12.5],[24.85,-10],[24.9,-7.5],[24.95,-5],
    [25,-3],[25.05,-1],[25.1,0.5],[25.15,1.5],[25.2,2.5],[25.25,3],[25.3,2.5],[25.35,2],[25.4,1.5],[25.45,0],
    [25.5,-2],[25.55,-3.5],[25.6,-4.5],[25.65,-3.5],[25.7,-1.5],[25.75,0.5],[25.8,2.5],[25.85,3.5],[25.9,3],[25.95,1.5],
    [26,0],[26.05,-1.5],[26.1,-2.5],[26.15,-2],[26.2,-1],[26.25,0],[26.3,1],[26.35,2],[26.4,2.8],[26.45,3.2],
    [26.5,3],[26.55,2.5],[26.6,2],[26.65,1.5],[26.7,1],[26.75,0.5],[26.8,0],[26.85,-0.5],[26.9,-0.8],[26.95,-1.2],
    [27,-1.5],[27.05,-1.2],[27.1,-1.8],[27.15,-1],[27.2,-1.5],[27.25,-1.2],[27.3,-0.6],[27.35,-1.4],[27.4,-0.8],[27.45,-1.6],
    [27.5,-0.5],[27.55,-1],[27.6,-0.4]
  ];

  // muestras intermedias del Edison en el tramo tranquilo
  const edisonMid = [
    [0.025,0.2],[0.075,-0.4],[0.125,0.9],[0.175,0.6],[0.225,-0.7],[0.275,0.3],[0.325,1.2],[0.375,-0.1],[0.425,0.5],[0.475,0.8],
    [0.525,-0.6],[0.575,0.4],[0.625,1],[0.675,-0.2],[0.725,0.7],[0.775,0.1],[0.825,-0.5],[0.875,1.1],[0.925,0.3],[0.975,-0.3],
    [1.025,0.6],[1.075,1.2],[1.125,-0.5],[1.175,0.1],[1.225,0.9],[1.275,-0.2],[1.325,0.4],[1.375,1],[1.425,-0.6],[1.475,0.7],
    [1.525,0.3],[1.575,-0.7],[1.625,1.1],[1.675,0.5],[1.725,-0.1],[1.775,0.8],[1.825,-0.4],[1.875,1.2],[1.925,0.2],[1.975,0.6],
    [2.025,-0.3],[2.075,0.8],[2.125,0.2],[2.175,1.1],[2.225,-0.6],[2.275,0.4],[2.325,1.3],[2.375,0],[2.425,-0.5],[2.475,0.9],
    [2.525,1],[2.575,-0.2],[2.625,0.5],[2.675,-0.6],[2.725,1.2],[2.775,0.3],[2.825,-0.1],[2.875,0.7],[2.925,-0.4],[2.975,1.1],
    [3.025,0.1],[3.075,0.9],[3.125,-0.4],[3.175,0.5],[3.225,1.1],[3.275,-0.7],[3.325,0.8],[3.375,0.2],[3.425,-0.2],[3.475,1],
    [3.525,-0.5],[3.575,0.6],[3.625,1.2],[3.675,0],[3.725,-0.3],[3.775,0.9],[3.825,0.4],[3.875,-0.6],[3.925,1.1],[3.975,0.5],
    [4.025,0.7],[4.075,-0.2],[4.125,1],[4.175,0.3],[4.225,-0.6],[4.275,0.6],[4.325,1.1],[4.375,-0.3],[4.425,0.8],[4.475,0.1],
    [4.525,0.9],[4.575,0.4],[4.625,-0.5],[4.675,0.7],[4.725,1.2],[4.775,-0.1],[4.825,0.3],[4.875,1],[4.925,-0.4],[4.975,0.6],
    [5.025,0.2],[5.075,1.1],[5.125,-0.3],[5.175,0.6],[5.225,0.9],[5.275,-0.6],[5.325,0.4],[5.375,1.2],[5.425,0],[5.475,-0.4],
    [5.525,1],[5.575,0.3],[5.625,-0.2],[5.675,0.8],[5.725,-0.6],[5.775,1.1],[5.825,0.5],[5.875,0],[5.925,0.9],[5.975,-0.3],
    [6.025,0.4],[6.075,1.2],[6.125,-0.2],[6.175,0.6],[6.225,0.1],[6.275,-0.5],[6.325,1],[6.375,0.3],[6.425,0.8],[6.475,-0.1],
    [6.525,0.9],[6.575,0.2],[6.625,-0.4],[6.675,1.1],[6.725,0.6],[6.775,0],[6.825,0.7],[6.875,-0.3],[6.925,1.2],[6.975,0.4],
    [7.025,0.3],[7.075,1],[7.125,0.6],[7.175,-0.1],[7.225,0.8],[7.275,0.4],[7.325,1.1],[7.375,0.2],[7.425,-0.2],[7.475,0.7],
    [7.525,0.6],[7.575,0.2],[7.625,0.9],[7.675,0.4],[7.725,0.7],[7.775,0.1],[7.825,1],[7.875,0.5],[7.925,0.3],[7.975,0.8],
    [8.025,0.4],[8.075,0.8],[8.125,0.2],[8.175,0.6],[8.225,0.9],[8.275,0.3],[8.325,0.5],[8.375,0.8],[8.425,0.4],[8.475,0.2],
    [8.525,0.7],[8.575,0.3],[8.625,0.6],[8.675,0.9],[8.725,0.2],[8.775,0.5],[8.825,0.8],[8.875,0.1],[8.925,0.6],[8.975,0.4],
    [9.025,0.8],[9.075,0.4],[9.125,0.1],[9.175,0.6],[9.225,1],[9.275,0.3],[9.325,0.5],[9.375,0.9],[9.425,0.2],[9.475,0.7],
    [9.525,0.4],[9.575,0],[9.625,1.1],[9.675,-0.4],[9.725,0.6],[9.775,1.3],[9.825,-0.7],[9.875,0.3],[9.925,-1.8],[9.975,-3.2]
  ];

  const textColor = '#262626';
  const axisColor = '#4d4d4d';
  const fontFamily = '"Liberation Sans", Arial, Helvetica, sans-serif';
  const tickLen = 8;

  function toPoints(rows) {
    return rows.map(function (r) { return { x: r[0], y: r[1] }; });
  }

  // recuadro, marcas hacia dentro y leyenda estilo MATLAB
  const framePlugin = {
    id: 'frame',
    afterDatasetsDraw: function (chart) {
      const ctx = chart.ctx;
      const a = chart.chartArea;
      const xs = chart.scales.x;
      const ys = chart.scales.y;
      ctx.save();
      ctx.strokeStyle = axisColor;
      ctx.lineWidth = 1;
      ctx.beginPath();
      ctx.rect(Math.round(a.left) + 0.5, Math.round(a.top) + 0.5,
        Math.round(a.right - a.left), Math.round(a.bottom - a.top));
      xTicks.forEach(function (v) {
        const px = Math.round(xs.getPixelForValue(v)) + 0.5;
        ctx.moveTo(px, a.bottom); ctx.lineTo(px, a.bottom - tickLen);
        ctx.moveTo(px, a.top); ctx.lineTo(px, a.top + tickLen);
      });
      yTicks.forEach(function (v) {
        const py = Math.round(ys.getPixelForValue(v)) + 0.5;
        ctx.moveTo(a.left, py); ctx.lineTo(a.left + tickLen, py);
        ctx.moveTo(a.right, py); ctx.lineTo(a.right - tickLen, py);
      });
      ctx.stroke();

      // leyenda
      const lx = 103.5, ly = 388.5, lw = 266, lh = 81;
      ctx.fillStyle = '#ffffff';
      ctx.fillRect(lx, ly, lw, lh);
      ctx.strokeStyle = '#262626';
      ctx.strokeRect(lx, ly, lw, lh);
      const rows = [403.5, 430, 456.5];
      const mx = 130;
      ctx.font = '20px ' + fontFamily;
      ctx.textBaseline = 'middle';
      ctx.textAlign = 'left';
      chart.data.datasets.forEach(function (ds, i) {
        const yy = rows[i];
        ctx.save();
        if (i === 0) {
          ctx.strokeStyle = ds.borderColor; ctx.lineWidth = 1;
          ctx.beginPath(); ctx.arc(mx, yy, 3.5, 0, Math.PI * 2); ctx.stroke();
        } else if (i === 1) {
          ctx.strokeStyle = ds.borderColor; ctx.lineWidth = 1.2;
          ctx.beginPath();
          ctx.moveTo(mx - 4.5, yy); ctx.lineTo(mx + 4.5, yy);
          ctx.moveTo(mx, yy - 4.5); ctx.lineTo(mx, yy + 4.5);
          ctx.stroke();
        } else {
          ctx.fillStyle = ds.backgroundColor;
          ctx.beginPath(); ctx.arc(mx, yy, 1.2, 0, Math.PI * 2); ctx.fill();
        }
        ctx.restore();
        ctx.fillStyle = '#000000';
        ctx.fillText(ds.label, 154, yy + 1);
      });
      ctx.restore();
    }
  };

  new Chart(document.getElementById('c'), {
    type: 'scatter',
    data: {
      datasets: [
        {
          label: seriesNames[0],
          data: toPoints(vbox),
          pointStyle: 'circle',
          pointRadius: 4,
          borderWidth: 1.5,
          borderColor: 'rgb(240, 25, 25)',
          backgroundColor: 'rgba(0,0,0,0)',
          order: 3
        },
        {
          label: seriesNames[1],
          data: toPoints(raspberry.concat(raspberryMid)),
          pointStyle: 'cross',
          pointRadius: 5,
          borderWidth: 1.5,
          borderColor: 'rgb(0, 0, 225)',
          backgroundColor: 'rgb(0, 0, 225)',
          order: 2
        },
        {
          label: seriesNames[2],
          data: toPoints(edison.concat(edisonMid)),
          pointStyle: 'circle',
          pointRadius: 1.6,
          borderWidth: 0,
          borderColor: 'rgb(30, 220, 30)',
          backgroundColor: 'rgb(30, 220, 30)',
          order: 1
        }
      ]
    },
    options: {
      responsive: false,
      animation: false,
      events: [],
      layout: { padding: { top: 17, right: 6, left: 0, bottom: 0 } },
      plugins: {
        legend: { display: false },
        tooltip: { enabled: false }
      },
      scales: {
        x: {
          type: 'linear',
          min: 0,
          max: 27.65,
          afterBuildTicks: function (s) { s.ticks = xTicks.map(function (v) { return { value: v }; }); },
          afterFit: function (s) { s.height = 64; },
          grid: { display: false, drawTicks: false },
          border: { display: false },
          ticks: { color: textColor, padding: 9, maxRotation: 0, font: { size: 19, family: fontFamily } },
          title: {
            display: true,
            text: xTitle,
            color: textColor,
            padding: { top: 0, bottom: 4 },
            font: { size: 21.5, family: fontFamily }
          }
        },
        y: {
          type: 'linear',
          min: -30,
          max: 25,
          afterBuildTicks: function (s) { s.ticks = yTicks.map(function (v) { return { value: v }; }); },
          afterFit: function (s) { s.width = 73; },
          grid: { display: false, drawTicks: false },
          border: { display: false },
          ticks: { color: textColor, padding: 5, font: { size: 19, family: fontFamily } },
          title: {
            display: true,
            text: yTitle,
            color: textColor,
            padding: { top: 10, bottom: 0 },
            font: { size: 21.5, family: fontFamily }
          }
        }
      }
    },
    plugins: [framePlugin]
  });
</script>
</body>
</html>
